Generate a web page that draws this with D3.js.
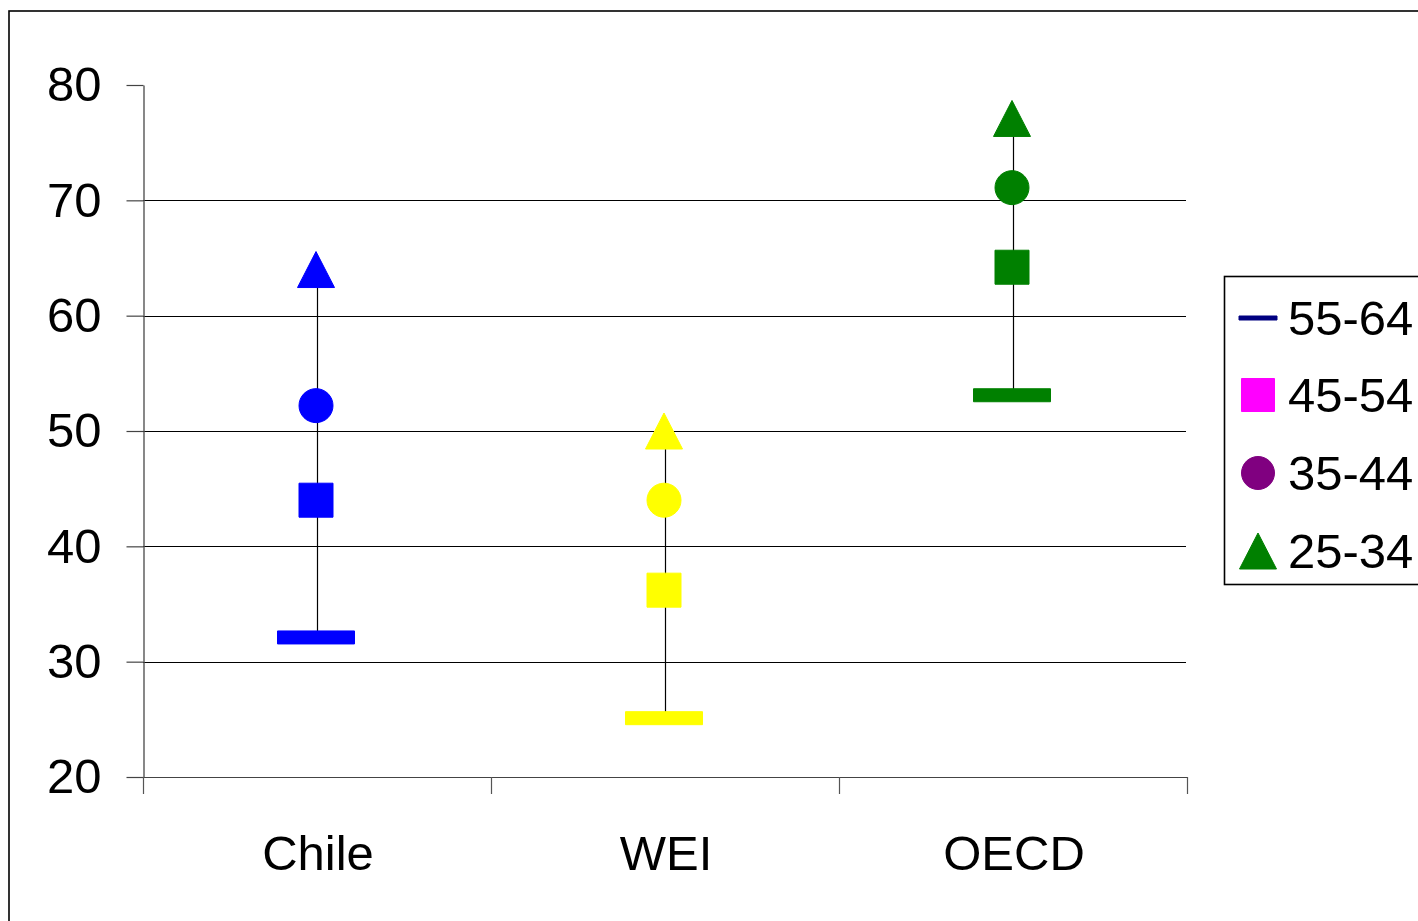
<!DOCTYPE html>
<html>
<head>
<meta charset="utf-8">
<script src="https://cdn.jsdelivr.net/npm/d3@7"></script>
<style>
  html, body { margin: 0; padding: 0; background: #fff; }
  svg { display: block; font-family: "Liberation Sans", Arial, sans-serif; }
</style>
</head>
<body>
<svg id="chart" width="1418" height="921"></svg>
<script>
const categories = ["Chile", "WEI", "OECD"];
const seriesNames = ["55-64", "45-54", "35-44", "25-34"];
const age5564 = [32.1, 25.1, 53.1];
const age4554 = [44, 36.2, 64.2];
const age3544 = [52.2, 44, 71.1];
const age2534 = [64, 50, 77.1];
const yTicks = [20, 30, 40, 50, 60, 70, 80];

const categoryColors = ["#0000FF", "#FFFF00", "#008000"];
const legendColors = ["#000080", "#FF00FF", "#800080", "#008000"];
const seriesValues = [age5564, age4554, age3544, age2534];

const svg = d3.select("#chart");

// outer frame
svg.append("rect")
  .attr("x", 9).attr("y", 11)
  .attr("width", 1440).attr("height", 940)
  .attr("fill", "#fff").attr("stroke", "#000").attr("stroke-width", 1.6);

const plotLeft = 143, plotRight = 1187, plotTop = 85, plotBottom = 777;

const y = d3.scaleLinear().domain([20, 80]).range([plotBottom, plotTop]);
const x = d3.scaleBand().domain(categories).range([plotLeft, plotRight]).padding(0);

// gridlines
svg.append("g").selectAll("line")
  .data(yTicks.filter(t => t > 20 && t < 80))
  .join("line")
  .attr("x1", plotLeft).attr("x2", plotRight - 1)
  .attr("y1", d => Math.round(y(d)) + 0.5).attr("y2", d => Math.round(y(d)) + 0.5)
  .attr("stroke", "#000").attr("stroke-width", 1);

// y axis
const yAxis = svg.append("g")
  .attr("transform", `translate(${plotLeft + 0.5},0)`)
  .call(d3.axisLeft(y).tickValues(yTicks).tickSize(17).tickPadding(25).tickSizeOuter(0));
yAxis.select(".domain").attr("stroke", "#555").attr("stroke-width", 1.4);
yAxis.selectAll(".tick line").attr("stroke", "#444").attr("stroke-width", 1.2);
yAxis.selectAll(".tick text")
  .attr("font-size", 49).attr("fill", "#000")
  .attr("font-family", "Liberation Sans, Arial, sans-serif");

// x axis
const xg = svg.append("g");
xg.append("line")
  .attr("x1", plotLeft).attr("x2", plotRight)
  .attr("y1", plotBottom + 0.5).attr("y2", plotBottom + 0.5)
  .attr("stroke", "#444").attr("stroke-width", 1.2);
const boundaries = categories.map(c => x(c)).concat([x(categories[categories.length - 1]) + x.bandwidth()]);
xg.selectAll("line.tick").data(boundaries).join("line")
  .attr("class", "tick")
  .attr("x1", d => Math.round(d) + 0.5).attr("x2", d => Math.round(d) + 0.5)
  .attr("y1", plotBottom).attr("y2", plotBottom + 17)
  .attr("stroke", "#555").attr("stroke-width", 1.2);
xg.selectAll("text").data(categories).join("text")
  .attr("x", d => x(d) + x.bandwidth() / 2 + 1)
  .attr("y", 870)
  .attr("text-anchor", "middle")
  .attr("font-size", 49)
  .attr("fill", "#000")
  .text(d => d);

// high-low lines
svg.append("g").selectAll("line")
  .data(categories)
  .join("line")
  .attr("x1", d => Math.round(x(d) + x.bandwidth() / 2) + 0.5)
  .attr("x2", d => Math.round(x(d) + x.bandwidth() / 2) + 0.5)
  .attr("y1", (d, i) => y(d3.min(seriesValues, s => s[i])))
  .attr("y2", (d, i) => y(d3.max(seriesValues, s => s[i])))
  .attr("stroke", "#000").attr("stroke-width", 1.2);

// marker shapes
function markerPath(kind) {
  if (kind === 0) { // dash
    const w = 77, h = 13;
    return `M${-w/2},${-h/2}h${w}v${h}h${-w}Z`;
  }
  if (kind === 1) { // square
    const s = 34;
    return `M${-s/2},${-s/2}h${s}v${s}h${-s}Z`;
  }
  if (kind === 2) { // circle
    const r = 17;
    return `M${r},0A${r},${r} 0 1,1 ${-r},0A${r},${r} 0 1,1 ${r},0Z`;
  }
  const w = 37, h = 36; // triangle
  return `M0,${-h/2}L${w/2},${h/2}L${-w/2},${h/2}Z`;
}

const points = [];
seriesValues.forEach((vals, si) => {
  vals.forEach((v, ci) => points.push({ series: si, cat: categories[ci], ci, v }));
});

svg.append("g").selectAll("path")
  .data(points)
  .join("path")
  .attr("transform", d => `translate(${x(d.cat) + x.bandwidth() / 2 - 1},${y(d.v)})`)
  .attr("d", d => markerPath(d.series))
  .attr("fill", d => categoryColors[d.ci])
  .attr("stroke", d => categoryColors[d.ci])
  .attr("stroke-width", 1)
  .attr("stroke-linejoin", "round");

// legend
const lg = svg.append("g");
lg.append("rect")
  .attr("x", 1224.5).attr("y", 276.5)
  .attr("width", 220).attr("height", 308)
  .attr("fill", "#fff").attr("stroke", "#000").attr("stroke-width", 1.6);

const legendY = [318, 395, 473, 551];
seriesNames.forEach((name, i) => {
  const cy = legendY[i];
  let shape;
  if (i === 0) {
    shape = `M-19,-2h38v4h-38Z`;
  } else if (i === 1) {
    shape = `M-16.5,-16.5h33v33h-33Z`;
  } else if (i === 2) {
    shape = `M16.5,0A16.5,16.5 0 1,1 -16.5,0A16.5,16.5 0 1,1 16.5,0Z`;
  } else {
    shape = `M0,-18L18.5,18L-18.5,18Z`;
  }
  lg.append("path")
    .attr("transform", `translate(1258,${cy})`)
    .attr("d", shape)
    .attr("fill", legendColors[i])
    .attr("stroke", legendColors[i])
    .attr("stroke-width", 1)
    .attr("stroke-linejoin", "round");
  lg.append("text")
    .attr("x", 1288)
    .attr("y", cy + 17)
    .attr("font-size", 49)
    .attr("fill", "#000")
    .text(name);
});
</script>
</body>
</html>
